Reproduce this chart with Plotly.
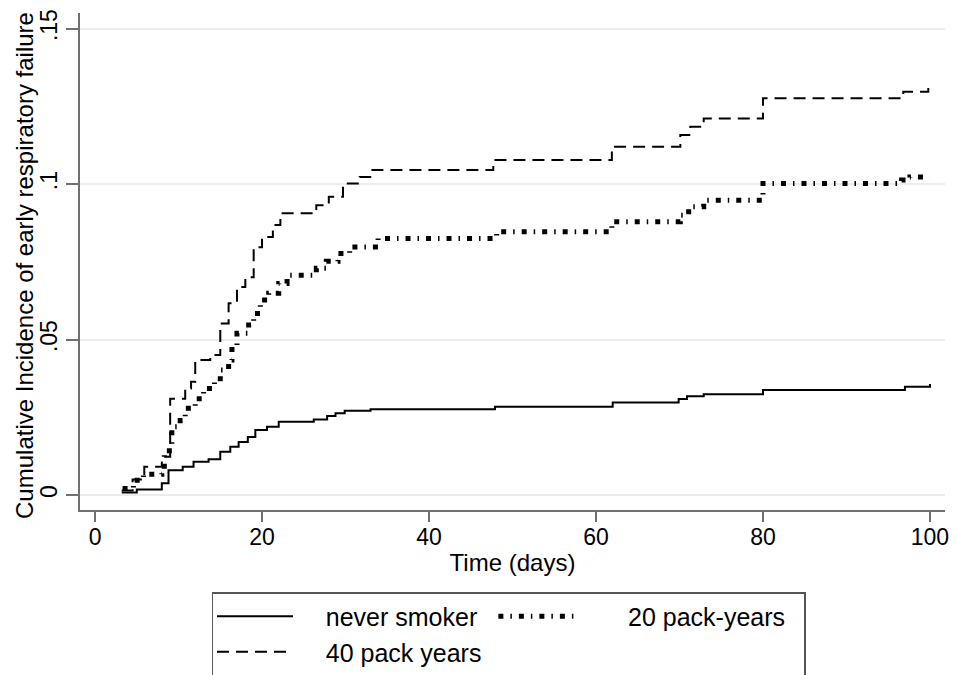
import plotly.graph_objects as go

# ---- data ----
never_x = [3.2, 5.0, 8.0, 8.8, 10.5, 11.8, 13.6, 15.0, 16.2, 17.2, 18.3, 19.2, 20.6, 22.0,
           26.2, 27.8, 28.8, 29.9, 33.0, 47.9, 62.0, 69.9, 70.9, 72.9, 80.0, 97.0, 100.0]
never_y = [0.0008, 0.0018, 0.0038, 0.0080, 0.0091, 0.0107, 0.0115, 0.0139, 0.0155, 0.0171,
           0.0187, 0.0209, 0.0220, 0.0236, 0.0243, 0.0254, 0.0263, 0.0271, 0.0276, 0.0284,
           0.0298, 0.0309, 0.0318, 0.0324, 0.0338, 0.0348, 0.0357]

py20_x = [3.3, 4.6, 5.8, 8.0, 8.3, 8.9, 9.2, 10.2, 10.8, 12.0, 13.0, 14.3, 15.0, 16.0, 16.4,
          17.0, 18.4, 19.0, 19.8, 20.8, 22.0, 23.0, 26.5, 27.7, 29.1, 30.5, 33.9, 48.1, 61.9,
          70.1, 71.1, 72.9, 80.0, 96.6, 97.6, 100.0]
py20_y = [0.0021, 0.0048, 0.0067, 0.0075, 0.0129, 0.0160, 0.0220, 0.0240, 0.0279, 0.0310,
          0.0343, 0.0364, 0.0402, 0.0434, 0.0482, 0.0520, 0.0547, 0.0584, 0.0627, 0.0649,
          0.0680, 0.0707, 0.0729, 0.0752, 0.0777, 0.0798, 0.0825, 0.0847, 0.0879, 0.0900,
          0.0927, 0.0948, 0.1002, 0.1013, 0.1023, 0.1023]

py40_x = [3.2, 4.5, 5.9, 8.0, 9.0, 10.8, 11.5, 12.0, 13.8, 15.0, 16.0, 17.0, 18.0, 19.0, 20.0,
          21.3, 22.2, 26.5, 28.0, 29.7, 31.7, 33.1, 47.7, 61.9, 70.1, 71.3, 72.9, 80.0, 96.8, 99.8]
py40_y = [0.0015, 0.0050, 0.0091, 0.0123, 0.0310, 0.0343, 0.0364, 0.0434, 0.0450, 0.0552,
          0.0617, 0.0669, 0.0700, 0.0797, 0.0830, 0.0868, 0.0906, 0.0932, 0.0959, 0.1002,
          0.1023, 0.1045, 0.1077, 0.1120, 0.1158, 0.1184, 0.1211, 0.1276, 0.1297, 0.1329]

x_ticks = [0, 20, 40, 60, 80, 100]
y_ticks = [0, 0.05, 0.10, 0.15]
y_tick_labels = ["0", ".05", ".1", ".15"]
series_names = ["never smoker", "20 pack-years", "40 pack years"]
x_title = "Time (days)"
y_title = "Cumulative Incidence of early respiratory failure"

FONT = "Liberation Sans, Arial, sans-serif"
AX = "#707070"
NB = "\u00a0"

fig = go.Figure()
fig.add_trace(go.Scatter(x=never_x, y=never_y, mode="lines", name=NB * 4 + series_names[0],
                         legendgroup="a",
                         line=dict(color="black", width=2, shape="hv")))
fig.add_trace(go.Scatter(x=py40_x, y=py40_y, mode="lines", name=NB * 4 + series_names[2] + NB,
                         legendgroup="a",
                         line=dict(color="black", width=2, shape="hv", dash="12px,7px")))
fig.add_trace(go.Scatter(x=py20_x, y=py20_y, mode="lines", name=NB * 7 + series_names[1] + NB * 2,
                         legendgroup="b",
                         line=dict(color="black", width=5, shape="hv",
                                   dash="5px,7px,1.5px,7px")))

# the page body has an 8px margin, so the figure is placed at (8, 8)
fig.update_layout(
    width=949, height=667,
    margin=dict(l=72, r=12, t=5, b=165, autoexpand=False),
    paper_bgcolor="white", plot_bgcolor="white",
    font=dict(family=FONT, color="black", size=23),
    showlegend=True,
    legend=dict(orientation="h", x=0.1526, xanchor="left", y=-0.165, yanchor="top",
                bordercolor="#555555", borderwidth=1.5,
                itemwidth=76, font=dict(size=25, family=FONT), bgcolor="white",
                traceorder="grouped", tracegroupgap=0, valign="middle"),
    xaxis=dict(range=[-1.8, 101.8], tickvals=x_ticks, showgrid=False, zeroline=False,
               showline=True, linecolor=AX, linewidth=2, ticks="outside", ticklen=10,
               tickcolor=AX, tickwidth=1.5, tickfont=dict(size=23), automargin=False,
               ticklabelstandoff=-5, ticklabeloverflow="allow",
               title=dict(text=x_title, font=dict(size=24), standoff=6)),
    yaxis=dict(range=[-0.0048, 0.155], tickvals=y_ticks, ticktext=y_tick_labels,
               tickangle=-90, showgrid=True, gridcolor="#ececec", gridwidth=2,
               zeroline=False, showline=True, linecolor=AX, linewidth=2,
               ticks="outside", ticklen=12, tickcolor=AX, tickwidth=1.5,
               tickfont=dict(size=23), automargin=False, ticklabelstandoff=0,
               ticklabeloverflow="allow"),
    annotations=[dict(text=y_title, xref="paper", yref="paper", x=-0.0636, y=0.493,
                      xanchor="center", yanchor="middle", textangle=-90, showarrow=False,
                      font=dict(size=24, family=FONT, color="black"))],
)

fig.write_html("out.html")
